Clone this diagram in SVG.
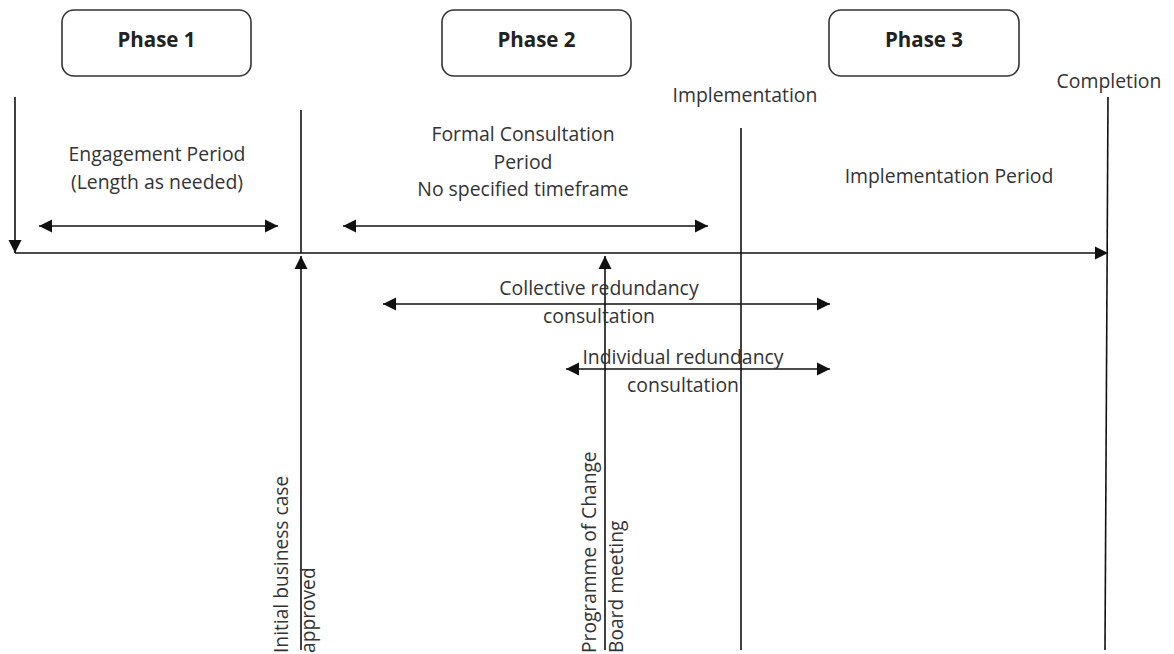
<svg xmlns="http://www.w3.org/2000/svg" width="1174" height="654" viewBox="0 0 1174 654">
<style>
.box{fill:#fff;stroke:#333;stroke-width:1.6}
.ph{font-family:"Open Sans","Liberation Sans",sans-serif;font-size:20.5px;font-weight:bold;fill:#222;text-anchor:middle}
.t{font-family:"Open Sans","Liberation Sans",sans-serif;font-size:19.4px;fill:#333;text-anchor:middle}
.r{font-family:"Open Sans","Liberation Sans",sans-serif;font-size:19.2px;fill:#333;text-anchor:start}
.ln{stroke:#111;stroke-width:1.6;fill:none}
</style>
<defs>
<marker id="ah" markerUnits="userSpaceOnUse" markerWidth="14" markerHeight="14" viewBox="0 0 14 14" refX="13" refY="7" orient="auto-start-reverse">
<path d="M0,0.5 L13,7 L0,13.5 Z" fill="#111"/>
</marker>
</defs>
<rect width="1174" height="654" fill="#fff"/>
<g id="phase1"><rect class="box" x="62" y="10" width="189" height="66" rx="12"/><text class="ph" x="156.5" y="47">Phase 1</text></g>
<g id="phase2"><rect class="box" x="442" y="10" width="189" height="66" rx="12"/><text class="ph" x="536.5" y="47">Phase 2</text></g>
<g id="phase3"><rect class="box" x="829" y="10" width="190" height="66" rx="12"/><text class="ph" x="924" y="47">Phase 3</text></g>
<g id="connectors">
<line class="ln" x1="15" y1="97" x2="15" y2="253" marker-end="url(#ah)"/>
<line class="ln" x1="15" y1="253" x2="1108" y2="253" marker-end="url(#ah)"/>
<line class="ln" x1="301" y1="110" x2="301" y2="253"/>
<line class="ln" x1="301" y1="650" x2="301" y2="256" marker-end="url(#ah)"/>
<line class="ln" x1="605" y1="650" x2="605" y2="256" marker-end="url(#ah)"/>
<line class="ln" x1="741" y1="128" x2="741" y2="650"/>
<line class="ln" x1="1108" y1="97" x2="1105" y2="650"/>
<line class="ln" x1="39" y1="226" x2="278" y2="226" marker-start="url(#ah)" marker-end="url(#ah)"/>
<line class="ln" x1="343" y1="226" x2="708" y2="226" marker-start="url(#ah)" marker-end="url(#ah)"/>
<line class="ln" x1="383" y1="304" x2="830" y2="304" marker-start="url(#ah)" marker-end="url(#ah)"/>
<line class="ln" x1="566" y1="369" x2="830" y2="369" marker-start="url(#ah)" marker-end="url(#ah)"/>
</g>
<g id="labels">
<text class="t" x="157" y="161">Engagement Period</text>
<text class="t" x="157" y="189">(Length as needed)</text>
<text class="t" x="523" y="141">Formal Consultation</text>
<text class="t" x="523" y="169">Period</text>
<text class="t" x="523" y="196">No specified timeframe</text>
<text class="t" x="745" y="102">Implementation</text>
<text class="t" x="1109" y="88">Completion</text>
<text class="t" x="949" y="183">Implementation Period</text>
<text class="t" x="599" y="295">Collective redundancy</text>
<text class="t" x="599" y="323">consultation</text>
<text class="t" x="683" y="364">Individual redundancy</text>
<text class="t" x="683" y="392">consultation</text>
<text class="r" transform="translate(288,653) rotate(-90)">Initial business case</text>
<text class="r" transform="translate(315,653) rotate(-90)">approved</text>
<text class="r" transform="translate(596,653) rotate(-90)">Programme of Change</text>
<text class="r" transform="translate(623,653) rotate(-90)">Board meeting</text>
</g>
</svg>
